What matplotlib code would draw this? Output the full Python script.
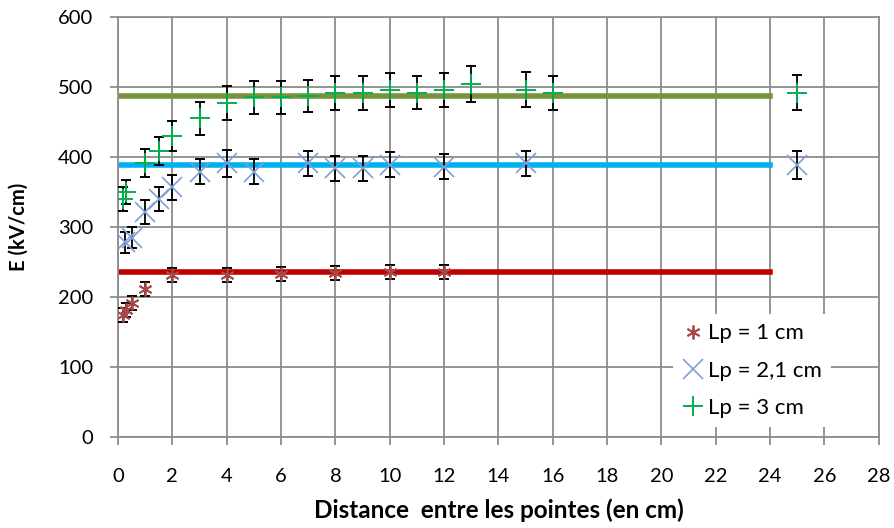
import numpy as np
import matplotlib.pyplot as plt

# Lp = 1 cm
x_lp1 = [0.2, 0.3, 0.5, 1, 2, 4, 6, 8, 10, 12]
e_lp1 = [174, 182, 191, 212, 231, 231, 233, 234, 236, 236]
err_lp1 = [10, 10, 10, 10, 10, 10, 10, 10, 10, 10]

# Lp = 2,1 cm
x_lp2 = [0.25, 0.5, 1, 1.5, 2, 3, 4, 5, 7, 8, 9, 10, 12, 15, 25]
e_lp2 = [278, 285, 321, 340, 357, 379, 391, 379, 391, 384, 384, 389, 386, 391, 389]
err_lp2 = [15, 15, 17, 17, 18, 18, 19, 18, 18, 18, 18, 18, 18, 18, 20]

# Lp = 3 cm
x_lp3 = [0.2, 0.3, 1, 1.5, 2, 3, 4, 5, 6, 7, 8, 9, 10, 11, 12, 13, 15, 16, 25]
e_lp3 = [340, 350, 392, 408, 430, 455, 477, 485, 485, 487, 491, 491, 496, 492, 496, 504, 496, 491, 492]
err_lp3 = [17, 17, 20, 20, 21, 23, 24, 24, 24, 23, 24, 24, 24, 24, 24, 26, 25, 24, 25]

# mean levels (drawn from 0 to 24 cm)
mean_x = [0, 24]
mean_lp1 = 236
mean_lp2 = 389
mean_lp3 = 487

plt.rcParams['font.family'] = ['Lato', 'DejaVu Sans']

fig = plt.figure(figsize=(8.94, 5.28), dpi=100)
ax = fig.add_axes([0.132, 0.172, 0.851, 0.796])

ax.plot(mean_x, [mean_lp3] * 2, color='#77933C', lw=4, zorder=2)
ax.plot(mean_x, [mean_lp2] * 2, color='#00B0F0', lw=4, zorder=2)
ax.plot(mean_x, [mean_lp1] * 2, color='#C00000', lw=4, zorder=2)

for xs, es, errs in [(x_lp1, e_lp1, err_lp1), (x_lp2, e_lp2, err_lp2), (x_lp3, e_lp3, err_lp3)]:
    ax.errorbar(xs, es, yerr=errs, fmt='none', ecolor='black', elinewidth=1.3,
                capsize=3.5, capthick=1.4, zorder=3)

ax.plot(x_lp1, e_lp1, ls='none', marker=(6, 2, 0), ms=10, mec='#A84848', mew=1.3, zorder=4, label='Lp = 1 cm')
ax.plot(x_lp2, e_lp2, ls='none', marker='x', ms=14, mec='#7FA0D4', mew=1.2, zorder=4, label='Lp = 2,1 cm')
ax.plot(x_lp3, e_lp3, ls='none', marker='+', ms=15, mec='#00B050', mew=1.4, zorder=4, label='Lp = 3 cm')

ax.set_xlim(0, 28)
ax.set_ylim(0, 600)
ax.set_xticks(np.arange(0, 29, 2))
ax.set_yticks(np.arange(0, 601, 100))
ax.grid(True, color='#8C8C8C', lw=1.3)
ax.set_axisbelow(True)
for s in ax.spines.values():
    s.set_color('#8C8C8C')
    s.set_linewidth(1.3)
ax.tick_params(axis='both', direction='out', length=6, color='#8C8C8C', width=1.3, labelsize=14.5)
ax.tick_params(axis='x', pad=16)
ax.tick_params(axis='y', pad=12)

ax.set_xlabel('Distance  entre les pointes (en cm)', fontsize=17.5, fontweight='bold', labelpad=10)
ax.set_ylabel('E (kV/cm)', fontsize=14.5, fontweight='bold', labelpad=21)

leg = ax.legend(loc='upper left', bbox_to_anchor=(0.729, 0.292), borderaxespad=0, fontsize=16,
                frameon=True, fancybox=False, edgecolor='none', framealpha=1, handlelength=1.0,
                handletextpad=0.2, labelspacing=0.78, borderpad=0.4)

fig.savefig('out.png', dpi=100)
